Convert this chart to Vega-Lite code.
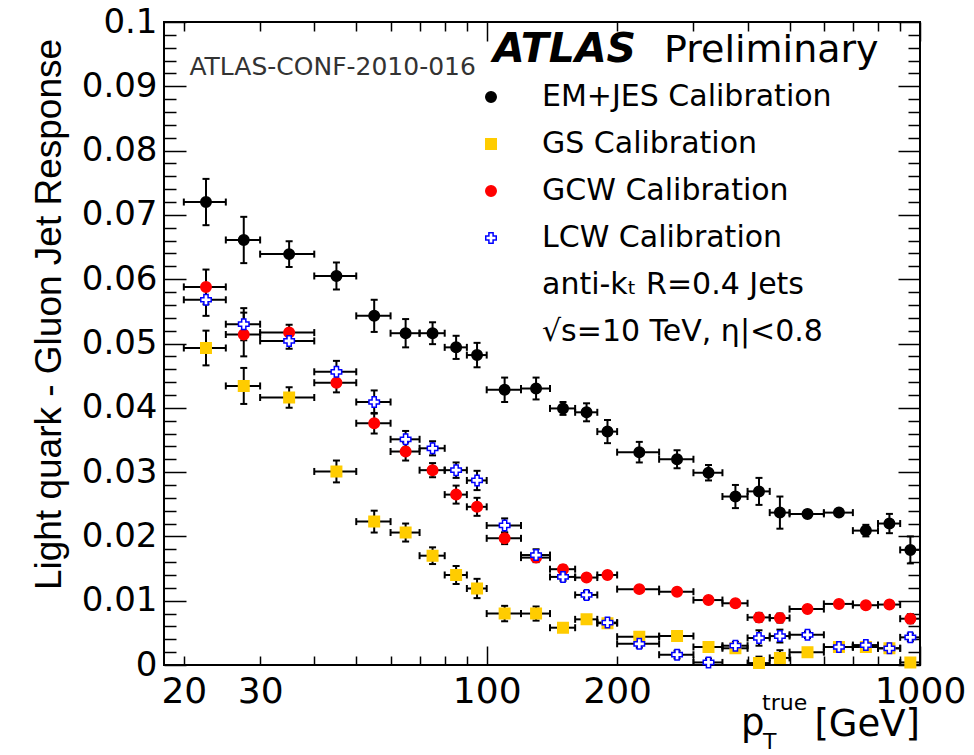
{
  "$schema": "https://vega.github.io/schema/vega-lite/v6.json",
  "autosize": "none",
  "width": 756,
  "height": 643,
  "padding": {"left": 164, "top": 22, "right": 54, "bottom": 90},
  "background": "white",
  "config": {
    "view": {"stroke": "black", "strokeWidth": 2},
    "font": "DejaVu Sans",
    "axis": {"grid": false, "domain": false, "tickColor": "black", "labelColor": "black", "titleColor": "black"}
  },
  "data": {"values": [
      {"cal": "EM+JES Calibration", "lo": 20, "hi": 25, "pt": 22.5, "resp": 0.0720, "ylo": 0.0684, "yhi": 0.0756},
      {"cal": "EM+JES Calibration", "lo": 25, "hi": 30, "pt": 27.5, "resp": 0.0661, "ylo": 0.0625, "yhi": 0.0697},
      {"cal": "EM+JES Calibration", "lo": 30, "hi": 40, "pt": 35, "resp": 0.0639, "ylo": 0.0619, "yhi": 0.0659},
      {"cal": "EM+JES Calibration", "lo": 40, "hi": 50, "pt": 45, "resp": 0.0605, "ylo": 0.0584, "yhi": 0.0626},
      {"cal": "EM+JES Calibration", "lo": 50, "hi": 60, "pt": 55, "resp": 0.0543, "ylo": 0.0518, "yhi": 0.0568},
      {"cal": "EM+JES Calibration", "lo": 60, "hi": 70, "pt": 65, "resp": 0.0516, "ylo": 0.0494, "yhi": 0.0538},
      {"cal": "EM+JES Calibration", "lo": 70, "hi": 80, "pt": 75, "resp": 0.0516, "ylo": 0.0499, "yhi": 0.0533},
      {"cal": "EM+JES Calibration", "lo": 80, "hi": 90, "pt": 85, "resp": 0.0494, "ylo": 0.0476, "yhi": 0.0512},
      {"cal": "EM+JES Calibration", "lo": 90, "hi": 100, "pt": 95, "resp": 0.0482, "ylo": 0.0463, "yhi": 0.0501},
      {"cal": "EM+JES Calibration", "lo": 100, "hi": 120, "pt": 110, "resp": 0.0428, "ylo": 0.0409, "yhi": 0.0447},
      {"cal": "EM+JES Calibration", "lo": 120, "hi": 140, "pt": 130, "resp": 0.0430, "ylo": 0.0413, "yhi": 0.0447},
      {"cal": "EM+JES Calibration", "lo": 140, "hi": 160, "pt": 150, "resp": 0.0399, "ylo": 0.0389, "yhi": 0.0409},
      {"cal": "EM+JES Calibration", "lo": 160, "hi": 180, "pt": 170, "resp": 0.0393, "ylo": 0.0379, "yhi": 0.0407},
      {"cal": "EM+JES Calibration", "lo": 180, "hi": 200, "pt": 190, "resp": 0.0363, "ylo": 0.0345, "yhi": 0.0381},
      {"cal": "EM+JES Calibration", "lo": 200, "hi": 250, "pt": 225, "resp": 0.0331, "ylo": 0.0315, "yhi": 0.0347},
      {"cal": "EM+JES Calibration", "lo": 250, "hi": 300, "pt": 275, "resp": 0.0320, "ylo": 0.0306, "yhi": 0.0334},
      {"cal": "EM+JES Calibration", "lo": 300, "hi": 350, "pt": 325, "resp": 0.0299, "ylo": 0.0287, "yhi": 0.0311},
      {"cal": "EM+JES Calibration", "lo": 350, "hi": 400, "pt": 375, "resp": 0.0262, "ylo": 0.0244, "yhi": 0.0280},
      {"cal": "EM+JES Calibration", "lo": 400, "hi": 450, "pt": 425, "resp": 0.0270, "ylo": 0.0249, "yhi": 0.0291},
      {"cal": "EM+JES Calibration", "lo": 450, "hi": 500, "pt": 475, "resp": 0.0237, "ylo": 0.0212, "yhi": 0.0262},
      {"cal": "EM+JES Calibration", "lo": 500, "hi": 600, "pt": 550, "resp": 0.0235, "ylo": 0.0231, "yhi": 0.0239},
      {"cal": "EM+JES Calibration", "lo": 600, "hi": 700, "pt": 650, "resp": 0.0237, "ylo": 0.0233, "yhi": 0.0241},
      {"cal": "EM+JES Calibration", "lo": 700, "hi": 800, "pt": 750, "resp": 0.0209, "ylo": 0.0200, "yhi": 0.0218},
      {"cal": "EM+JES Calibration", "lo": 800, "hi": 900, "pt": 850, "resp": 0.0220, "ylo": 0.0205, "yhi": 0.0235},
      {"cal": "EM+JES Calibration", "lo": 900, "hi": 1000, "pt": 950, "resp": 0.0179, "ylo": 0.0158, "yhi": 0.0200},

      {"cal": "GS Calibration", "lo": 20, "hi": 25, "pt": 22.5, "resp": 0.0493, "ylo": 0.0466, "yhi": 0.0520},
      {"cal": "GS Calibration", "lo": 25, "hi": 30, "pt": 27.5, "resp": 0.0434, "ylo": 0.0406, "yhi": 0.0462},
      {"cal": "GS Calibration", "lo": 30, "hi": 40, "pt": 35, "resp": 0.0416, "ylo": 0.0400, "yhi": 0.0432},
      {"cal": "GS Calibration", "lo": 40, "hi": 50, "pt": 45, "resp": 0.0301, "ylo": 0.0284, "yhi": 0.0318},
      {"cal": "GS Calibration", "lo": 50, "hi": 60, "pt": 55, "resp": 0.0223, "ylo": 0.0206, "yhi": 0.0240},
      {"cal": "GS Calibration", "lo": 60, "hi": 70, "pt": 65, "resp": 0.0206, "ylo": 0.0192, "yhi": 0.0220},
      {"cal": "GS Calibration", "lo": 70, "hi": 80, "pt": 75, "resp": 0.0170, "ylo": 0.0157, "yhi": 0.0183},
      {"cal": "GS Calibration", "lo": 80, "hi": 90, "pt": 85, "resp": 0.0140, "ylo": 0.0126, "yhi": 0.0154},
      {"cal": "GS Calibration", "lo": 90, "hi": 100, "pt": 95, "resp": 0.0119, "ylo": 0.0104, "yhi": 0.0134},
      {"cal": "GS Calibration", "lo": 100, "hi": 120, "pt": 110, "resp": 0.0080, "ylo": 0.0068, "yhi": 0.0092},
      {"cal": "GS Calibration", "lo": 120, "hi": 140, "pt": 130, "resp": 0.0080, "ylo": 0.0069, "yhi": 0.0091},
      {"cal": "GS Calibration", "lo": 140, "hi": 160, "pt": 150, "resp": 0.0058, "ylo": 0.0052, "yhi": 0.0064},
      {"cal": "GS Calibration", "lo": 160, "hi": 180, "pt": 170, "resp": 0.0071, "ylo": 0.0065, "yhi": 0.0077},
      {"cal": "GS Calibration", "lo": 180, "hi": 200, "pt": 190, "resp": 0.0065, "ylo": 0.0059, "yhi": 0.0071},
      {"cal": "GS Calibration", "lo": 200, "hi": 250, "pt": 225, "resp": 0.0044, "ylo": 0.0039, "yhi": 0.0049},
      {"cal": "GS Calibration", "lo": 250, "hi": 300, "pt": 275, "resp": 0.0045, "ylo": 0.0040, "yhi": 0.0050},
      {"cal": "GS Calibration", "lo": 300, "hi": 350, "pt": 325, "resp": 0.0028, "ylo": 0.0023, "yhi": 0.0033},
      {"cal": "GS Calibration", "lo": 350, "hi": 400, "pt": 375, "resp": 0.0026, "ylo": 0.0020, "yhi": 0.0032},
      {"cal": "GS Calibration", "lo": 400, "hi": 450, "pt": 425, "resp": 0.0003, "ylo": -0.0007, "yhi": 0.0013},
      {"cal": "GS Calibration", "lo": 450, "hi": 500, "pt": 475, "resp": 0.0011, "ylo": -0.0001, "yhi": 0.0023},
      {"cal": "GS Calibration", "lo": 500, "hi": 600, "pt": 550, "resp": 0.0020, "ylo": 0.0015, "yhi": 0.0025},
      {"cal": "GS Calibration", "lo": 600, "hi": 700, "pt": 650, "resp": 0.0028, "ylo": 0.0023, "yhi": 0.0033},
      {"cal": "GS Calibration", "lo": 700, "hi": 800, "pt": 750, "resp": 0.0028, "ylo": 0.0023, "yhi": 0.0033},
      {"cal": "GS Calibration", "lo": 800, "hi": 900, "pt": 850, "resp": 0.0026, "ylo": 0.0021, "yhi": 0.0031},
      {"cal": "GS Calibration", "lo": 900, "hi": 1000, "pt": 950, "resp": 0.0004, "ylo": -0.0001, "yhi": 0.0009},

      {"cal": "GCW Calibration", "lo": 20, "hi": 25, "pt": 22.5, "resp": 0.0588, "ylo": 0.0561, "yhi": 0.0615},
      {"cal": "GCW Calibration", "lo": 25, "hi": 30, "pt": 27.5, "resp": 0.0514, "ylo": 0.0480, "yhi": 0.0548},
      {"cal": "GCW Calibration", "lo": 30, "hi": 40, "pt": 35, "resp": 0.0517, "ylo": 0.0505, "yhi": 0.0529},
      {"cal": "GCW Calibration", "lo": 40, "hi": 50, "pt": 45, "resp": 0.0439, "ylo": 0.0424, "yhi": 0.0454},
      {"cal": "GCW Calibration", "lo": 50, "hi": 60, "pt": 55, "resp": 0.0376, "ylo": 0.0360, "yhi": 0.0392},
      {"cal": "GCW Calibration", "lo": 60, "hi": 70, "pt": 65, "resp": 0.0332, "ylo": 0.0318, "yhi": 0.0346},
      {"cal": "GCW Calibration", "lo": 70, "hi": 80, "pt": 75, "resp": 0.0303, "ylo": 0.0292, "yhi": 0.0314},
      {"cal": "GCW Calibration", "lo": 80, "hi": 90, "pt": 85, "resp": 0.0265, "ylo": 0.0251, "yhi": 0.0279},
      {"cal": "GCW Calibration", "lo": 90, "hi": 100, "pt": 95, "resp": 0.0246, "ylo": 0.0232, "yhi": 0.0260},
      {"cal": "GCW Calibration", "lo": 100, "hi": 120, "pt": 110, "resp": 0.0197, "ylo": 0.0188, "yhi": 0.0206},
      {"cal": "GCW Calibration", "lo": 120, "hi": 140, "pt": 130, "resp": 0.0167, "ylo": 0.0160, "yhi": 0.0174},
      {"cal": "GCW Calibration", "lo": 140, "hi": 160, "pt": 150, "resp": 0.0149, "ylo": 0.0143, "yhi": 0.0155},
      {"cal": "GCW Calibration", "lo": 160, "hi": 180, "pt": 170, "resp": 0.0136, "ylo": 0.0131, "yhi": 0.0141},
      {"cal": "GCW Calibration", "lo": 180, "hi": 200, "pt": 190, "resp": 0.0140, "ylo": 0.0134, "yhi": 0.0146},
      {"cal": "GCW Calibration", "lo": 200, "hi": 250, "pt": 225, "resp": 0.0118, "ylo": 0.0113, "yhi": 0.0123},
      {"cal": "GCW Calibration", "lo": 250, "hi": 300, "pt": 275, "resp": 0.0114, "ylo": 0.0109, "yhi": 0.0119},
      {"cal": "GCW Calibration", "lo": 300, "hi": 350, "pt": 325, "resp": 0.0101, "ylo": 0.0096, "yhi": 0.0106},
      {"cal": "GCW Calibration", "lo": 350, "hi": 400, "pt": 375, "resp": 0.0096, "ylo": 0.0091, "yhi": 0.0101},
      {"cal": "GCW Calibration", "lo": 400, "hi": 450, "pt": 425, "resp": 0.0074, "ylo": 0.0067, "yhi": 0.0081},
      {"cal": "GCW Calibration", "lo": 450, "hi": 500, "pt": 475, "resp": 0.0073, "ylo": 0.0066, "yhi": 0.0080},
      {"cal": "GCW Calibration", "lo": 500, "hi": 600, "pt": 550, "resp": 0.0087, "ylo": 0.0082, "yhi": 0.0092},
      {"cal": "GCW Calibration", "lo": 600, "hi": 700, "pt": 650, "resp": 0.0095, "ylo": 0.0090, "yhi": 0.0100},
      {"cal": "GCW Calibration", "lo": 700, "hi": 800, "pt": 750, "resp": 0.0093, "ylo": 0.0088, "yhi": 0.0098},
      {"cal": "GCW Calibration", "lo": 800, "hi": 900, "pt": 850, "resp": 0.0094, "ylo": 0.0089, "yhi": 0.0099},
      {"cal": "GCW Calibration", "lo": 900, "hi": 1000, "pt": 950, "resp": 0.0072, "ylo": 0.0065, "yhi": 0.0079},

      {"cal": "LCW Calibration", "lo": 20, "hi": 25, "pt": 22.5, "resp": 0.0568, "ylo": 0.0543, "yhi": 0.0593},
      {"cal": "LCW Calibration", "lo": 25, "hi": 30, "pt": 27.5, "resp": 0.0530, "ylo": 0.0505, "yhi": 0.0555},
      {"cal": "LCW Calibration", "lo": 30, "hi": 40, "pt": 35, "resp": 0.0504, "ylo": 0.0492, "yhi": 0.0516},
      {"cal": "LCW Calibration", "lo": 40, "hi": 50, "pt": 45, "resp": 0.0456, "ylo": 0.0439, "yhi": 0.0473},
      {"cal": "LCW Calibration", "lo": 50, "hi": 60, "pt": 55, "resp": 0.0409, "ylo": 0.0391, "yhi": 0.0427},
      {"cal": "LCW Calibration", "lo": 60, "hi": 70, "pt": 65, "resp": 0.0351, "ylo": 0.0338, "yhi": 0.0364},
      {"cal": "LCW Calibration", "lo": 70, "hi": 80, "pt": 75, "resp": 0.0337, "ylo": 0.0326, "yhi": 0.0348},
      {"cal": "LCW Calibration", "lo": 80, "hi": 90, "pt": 85, "resp": 0.0303, "ylo": 0.0291, "yhi": 0.0315},
      {"cal": "LCW Calibration", "lo": 90, "hi": 100, "pt": 95, "resp": 0.0287, "ylo": 0.0272, "yhi": 0.0302},
      {"cal": "LCW Calibration", "lo": 100, "hi": 120, "pt": 110, "resp": 0.0217, "ylo": 0.0206, "yhi": 0.0228},
      {"cal": "LCW Calibration", "lo": 120, "hi": 140, "pt": 130, "resp": 0.0171, "ylo": 0.0162, "yhi": 0.0180},
      {"cal": "LCW Calibration", "lo": 140, "hi": 160, "pt": 150, "resp": 0.0137, "ylo": 0.0131, "yhi": 0.0143},
      {"cal": "LCW Calibration", "lo": 160, "hi": 180, "pt": 170, "resp": 0.0109, "ylo": 0.0103, "yhi": 0.0115},
      {"cal": "LCW Calibration", "lo": 180, "hi": 200, "pt": 190, "resp": 0.0066, "ylo": 0.0060, "yhi": 0.0072},
      {"cal": "LCW Calibration", "lo": 200, "hi": 250, "pt": 225, "resp": 0.0033, "ylo": 0.0027, "yhi": 0.0039},
      {"cal": "LCW Calibration", "lo": 250, "hi": 300, "pt": 275, "resp": 0.0016, "ylo": 0.0010, "yhi": 0.0022},
      {"cal": "LCW Calibration", "lo": 300, "hi": 350, "pt": 325, "resp": 0.0004, "ylo": -0.0002, "yhi": 0.0010},
      {"cal": "LCW Calibration", "lo": 350, "hi": 400, "pt": 375, "resp": 0.0030, "ylo": 0.0024, "yhi": 0.0036},
      {"cal": "LCW Calibration", "lo": 400, "hi": 450, "pt": 425, "resp": 0.0042, "ylo": 0.0030, "yhi": 0.0054},
      {"cal": "LCW Calibration", "lo": 450, "hi": 500, "pt": 475, "resp": 0.0045, "ylo": 0.0035, "yhi": 0.0055},
      {"cal": "LCW Calibration", "lo": 500, "hi": 600, "pt": 550, "resp": 0.0047, "ylo": 0.0042, "yhi": 0.0052},
      {"cal": "LCW Calibration", "lo": 600, "hi": 700, "pt": 650, "resp": 0.0028, "ylo": 0.0023, "yhi": 0.0033},
      {"cal": "LCW Calibration", "lo": 700, "hi": 800, "pt": 750, "resp": 0.0031, "ylo": 0.0026, "yhi": 0.0036},
      {"cal": "LCW Calibration", "lo": 800, "hi": 900, "pt": 850, "resp": 0.0026, "ylo": 0.0021, "yhi": 0.0031},
      {"cal": "LCW Calibration", "lo": 900, "hi": 1000, "pt": 950, "resp": 0.0043, "ylo": 0.0037, "yhi": 0.0049}
  ]},
  "layer": [
    {
      "mark": {"type": "point", "opacity": 0},
      "encoding": {
        "x": {"field": "pt", "type": "quantitative", "scale": {"type": "log", "domain": [18, 1000], "nice": false},
          "axis": {"orient": "bottom", "values": [100, 1000], "labels": false, "domain": false, "title": null, "ticks": true, "tickColor": "black", "tickWidth": 1.5, "tickSize": 19, "offset": -19}},
        "y": {"field": "resp", "type": "quantitative", "scale": {"domain": [0, 0.1], "nice": false, "zero": false},
          "axis": {"orient": "left", "values": [0, 0.01, 0.02, 0.03, 0.04, 0.05, 0.06, 0.07, 0.08, 0.09, 0.1], "labels": false, "domain": false, "title": null, "ticks": true, "tickColor": "black", "tickWidth": 1.5, "tickSize": 22, "offset": -22}}
      }
    },
    {
      "mark": {"type": "point", "opacity": 0},
      "encoding": {
        "x": {"field": "pt", "type": "quantitative",
          "axis": {"orient": "bottom", "values": [20, 30, 40, 50, 60, 70, 80, 90, 200, 300, 400, 500, 600, 700, 800, 900], "labels": false, "domain": false, "title": null, "ticks": true, "tickColor": "black", "tickWidth": 1.5, "tickSize": 9, "offset": -9}},
        "y": {"field": "resp", "type": "quantitative",
          "axis": {"orient": "left", "values": [0.002, 0.004, 0.006, 0.008, 0.012, 0.014, 0.016, 0.018, 0.022, 0.024, 0.026, 0.028, 0.032, 0.034, 0.036, 0.038, 0.042, 0.044, 0.046, 0.048, 0.052, 0.054, 0.056, 0.058, 0.062, 0.064, 0.066, 0.068, 0.072, 0.074, 0.076, 0.078, 0.082, 0.084, 0.086, 0.088, 0.092, 0.094, 0.096, 0.098], "labels": false, "domain": false, "title": null, "ticks": true, "tickColor": "black", "tickWidth": 1.5, "tickSize": 12, "offset": -12}}
      }
    },
    {
      "mark": {"type": "point", "opacity": 0},
      "encoding": {
        "x": {"field": "pt", "type": "quantitative",
          "axis": {"orient": "top", "values": [100, 1000], "labels": false, "domain": false, "title": null, "ticks": true, "tickColor": "black", "tickWidth": 1.5, "tickSize": 19, "offset": -19}},
        "y": {"field": "resp", "type": "quantitative",
          "axis": {"orient": "right", "values": [0, 0.01, 0.02, 0.03, 0.04, 0.05, 0.06, 0.07, 0.08, 0.09, 0.1], "labels": false, "domain": false, "title": null, "ticks": true, "tickColor": "black", "tickWidth": 1.5, "tickSize": 22, "offset": -22}}
      }
    },
    {
      "mark": {"type": "point", "opacity": 0},
      "encoding": {
        "x": {"field": "pt", "type": "quantitative",
          "axis": {"orient": "top", "values": [20, 30, 40, 50, 60, 70, 80, 90, 200, 300, 400, 500, 600, 700, 800, 900], "labels": false, "domain": false, "title": null, "ticks": true, "tickColor": "black", "tickWidth": 1.5, "tickSize": 9, "offset": -9}},
        "y": {"field": "resp", "type": "quantitative",
          "axis": {"orient": "right", "values": [0.002, 0.004, 0.006, 0.008, 0.012, 0.014, 0.016, 0.018, 0.022, 0.024, 0.026, 0.028, 0.032, 0.034, 0.036, 0.038, 0.042, 0.044, 0.046, 0.048, 0.052, 0.054, 0.056, 0.058, 0.062, 0.064, 0.066, 0.068, 0.072, 0.074, 0.076, 0.078, 0.082, 0.084, 0.086, 0.088, 0.092, 0.094, 0.096, 0.098], "labels": false, "domain": false, "title": null, "ticks": true, "tickColor": "black", "tickWidth": 1.5, "tickSize": 12, "offset": -12}}
      }
    },
    {
      "mark": {"type": "rule", "color": "black", "strokeWidth": 2, "clip": true},
      "encoding": {
        "x": {"field": "lo", "type": "quantitative", "axis": {"labels": false, "ticks": false, "domain": false, "grid": false, "title": null}},
        "x2": {"field": "hi"},
        "y": {"field": "resp", "type": "quantitative", "axis": {"labels": false, "ticks": false, "domain": false, "grid": false, "title": null}}
      }
    },
    {
      "mark": {"type": "tick", "orient": "vertical", "color": "black", "size": 7, "thickness": 2, "opacity": 1, "clip": true},
      "encoding": {
        "x": {"field": "lo", "type": "quantitative", "axis": {"labels": false, "ticks": false, "domain": false, "grid": false, "title": null}},
        "y": {"field": "resp", "type": "quantitative", "axis": {"labels": false, "ticks": false, "domain": false, "grid": false, "title": null}}
      }
    },
    {
      "mark": {"type": "tick", "orient": "vertical", "color": "black", "size": 7, "thickness": 2, "opacity": 1, "clip": true},
      "encoding": {
        "x": {"field": "hi", "type": "quantitative", "axis": {"labels": false, "ticks": false, "domain": false, "grid": false, "title": null}},
        "y": {"field": "resp", "type": "quantitative", "axis": {"labels": false, "ticks": false, "domain": false, "grid": false, "title": null}}
      }
    },
    {
      "mark": {"type": "rule", "color": "black", "strokeWidth": 2, "clip": true},
      "encoding": {
        "x": {"field": "pt", "type": "quantitative", "axis": {"labels": false, "ticks": false, "domain": false, "grid": false, "title": null}},
        "y": {"field": "ylo", "type": "quantitative", "axis": {"labels": false, "ticks": false, "domain": false, "grid": false, "title": null}},
        "y2": {"field": "yhi"}
      }
    },
    {
      "mark": {"type": "tick", "orient": "horizontal", "color": "black", "size": 7, "thickness": 2, "opacity": 1, "clip": true},
      "encoding": {
        "x": {"field": "pt", "type": "quantitative", "axis": {"labels": false, "ticks": false, "domain": false, "grid": false, "title": null}},
        "y": {"field": "ylo", "type": "quantitative", "axis": {"labels": false, "ticks": false, "domain": false, "grid": false, "title": null}}
      }
    },
    {
      "mark": {"type": "tick", "orient": "horizontal", "color": "black", "size": 7, "thickness": 2, "opacity": 1, "clip": true},
      "encoding": {
        "x": {"field": "pt", "type": "quantitative", "axis": {"labels": false, "ticks": false, "domain": false, "grid": false, "title": null}},
        "y": {"field": "yhi", "type": "quantitative", "axis": {"labels": false, "ticks": false, "domain": false, "grid": false, "title": null}}
      }
    },
    {
      "mark": {"type": "point", "filled": true, "size": 110, "strokeWidth": 1.5, "opacity": 1},
      "encoding": {
        "x": {"field": "pt", "type": "quantitative",
          "axis": {"orient": "bottom", "values": [20, 30, 100, 200, 1000], "format": "d", "ticks": false, "domain": false, "labelFontSize": 36, "labelPadding": 9, "labelFlush": false, "labelOverlap": false, "title": null}},
        "y": {"field": "resp", "type": "quantitative",
          "axis": {"orient": "left", "values": [0, 0.01, 0.02, 0.03, 0.04, 0.05, 0.06, 0.07, 0.08, 0.09, 0.1], "labelExpr": "datum.value == 0 ? '0' : format(datum.value, '.2~f')", "ticks": false, "domain": false, "labelFontSize": 34, "labelPadding": 7, "labelFlush": false,
            "title": "Light quark - Gluon Jet Response", "titleFont": "Liberation Sans", "titleFontSize": 37, "titleFontWeight": "normal", "titleAngle": -90, "titleAlign": "center", "titleBaseline": "alphabetic", "titleX": -104, "titleY": 292}},
        "shape": {"field": "cal", "type": "nominal",
          "scale": {"domain": ["EM+JES Calibration", "GS Calibration", "GCW Calibration", "LCW Calibration", "anti-kₜ R=0.4 Jets", "√s=10 TeV, η|<0.8"], "range": ["circle", "square", "circle", "cross", "circle", "circle"]},
          "legend": {"orient": "none", "legendX": 312, "legendY": 60, "title": null, "padding": 0, "labelFont": "DejaVu Sans", "labelFontSize": 30, "labelColor": "black", "labelOffset": 36, "rowPadding": 17, "symbolSize": 110, "symbolStrokeWidth": 1.5, "labelLimit": 600}},
        "fill": {"field": "cal", "type": "nominal",
          "scale": {"domain": ["EM+JES Calibration", "GS Calibration", "GCW Calibration", "LCW Calibration", "anti-kₜ R=0.4 Jets", "√s=10 TeV, η|<0.8"], "range": ["black", "#FFCC00", "#FF0000", "white", "transparent", "transparent"]},
          "legend": {"orient": "none", "legendX": 312, "legendY": 60, "title": null, "padding": 0, "labelFont": "DejaVu Sans", "labelFontSize": 30, "labelColor": "black", "labelOffset": 36, "rowPadding": 17, "symbolSize": 110, "symbolStrokeWidth": 1.5, "labelLimit": 600}},
        "stroke": {"field": "cal", "type": "nominal",
          "scale": {"domain": ["EM+JES Calibration", "GS Calibration", "GCW Calibration", "LCW Calibration", "anti-kₜ R=0.4 Jets", "√s=10 TeV, η|<0.8"], "range": ["black", "#FFCC00", "#FF0000", "#0000FF", "transparent", "transparent"]},
          "legend": {"orient": "none", "legendX": 312, "legendY": 60, "title": null, "padding": 0, "labelFont": "DejaVu Sans", "labelFontSize": 30, "labelColor": "black", "labelOffset": 36, "rowPadding": 17, "symbolSize": 110, "symbolStrokeWidth": 1.5, "labelLimit": 600}}
      }
    },
    {
      "transform": [{"filter": "datum.cal == 'EM+JES Calibration' && datum.lo == 20"}],
      "mark": {"type": "text", "text": "ATLAS", "font": "DejaVu Sans", "fontStyle": "italic", "fontWeight": "bold", "fontSize": 41, "align": "left", "baseline": "alphabetic", "color": "black"},
      "encoding": {"x": {"datum": 103.4, "type": "quantitative", "axis": {"labels": false, "ticks": false, "domain": false, "grid": false, "title": null}}, "y": {"datum": 0.0938, "type": "quantitative", "axis": {"labels": false, "ticks": false, "domain": false, "grid": false, "title": null}}}
    },
    {
      "transform": [{"filter": "datum.cal == 'EM+JES Calibration' && datum.lo == 20"}],
      "mark": {"type": "text", "text": "Preliminary", "font": "DejaVu Sans", "fontSize": 38, "align": "left", "baseline": "alphabetic", "color": "black"},
      "encoding": {"x": {"datum": 256.6, "type": "quantitative", "axis": {"labels": false, "ticks": false, "domain": false, "grid": false, "title": null}}, "y": {"datum": 0.0938, "type": "quantitative", "axis": {"labels": false, "ticks": false, "domain": false, "grid": false, "title": null}}}
    },
    {
      "transform": [{"filter": "datum.cal == 'EM+JES Calibration' && datum.lo == 20"}],
      "mark": {"type": "text", "text": "ATLAS-CONF-2010-016", "font": "DejaVu Sans", "fontSize": 25, "align": "left", "baseline": "alphabetic", "color": "#333333"},
      "encoding": {"x": {"datum": 20.6, "type": "quantitative", "axis": {"labels": false, "ticks": false, "domain": false, "grid": false, "title": null}}, "y": {"datum": 0.0918, "type": "quantitative", "axis": {"labels": false, "ticks": false, "domain": false, "grid": false, "title": null}}}
    },
    {
      "transform": [{"filter": "datum.cal == 'EM+JES Calibration' && datum.lo == 20"}],
      "mark": {"type": "text", "text": "p", "font": "DejaVu Sans", "fontSize": 37, "align": "left", "baseline": "alphabetic", "color": "black"},
      "encoding": {"x": {"datum": 386.3, "type": "quantitative", "axis": {"labels": false, "ticks": false, "domain": false, "grid": false, "title": null}}, "y": {"datum": -0.0109, "type": "quantitative", "axis": {"labels": false, "ticks": false, "domain": false, "grid": false, "title": null}}}
    },
    {
      "transform": [{"filter": "datum.cal == 'EM+JES Calibration' && datum.lo == 20"}],
      "mark": {"type": "text", "text": "true", "font": "DejaVu Sans", "fontSize": 22, "align": "left", "baseline": "alphabetic", "color": "black"},
      "encoding": {"x": {"datum": 432, "type": "quantitative", "axis": {"labels": false, "ticks": false, "domain": false, "grid": false, "title": null}}, "y": {"datum": -0.0070, "type": "quantitative", "axis": {"labels": false, "ticks": false, "domain": false, "grid": false, "title": null}}}
    },
    {
      "transform": [{"filter": "datum.cal == 'EM+JES Calibration' && datum.lo == 20"}],
      "mark": {"type": "text", "text": "T", "font": "DejaVu Sans", "fontSize": 22, "align": "left", "baseline": "alphabetic", "color": "black"},
      "encoding": {"x": {"datum": 434, "type": "quantitative", "axis": {"labels": false, "ticks": false, "domain": false, "grid": false, "title": null}}, "y": {"datum": -0.0131, "type": "quantitative", "axis": {"labels": false, "ticks": false, "domain": false, "grid": false, "title": null}}}
    },
    {
      "transform": [{"filter": "datum.cal == 'EM+JES Calibration' && datum.lo == 20"}],
      "mark": {"type": "text", "text": "[GeV]", "font": "DejaVu Sans", "fontSize": 37, "align": "right", "baseline": "alphabetic", "color": "black"},
      "encoding": {"x": {"datum": 1000, "type": "quantitative", "axis": {"labels": false, "ticks": false, "domain": false, "grid": false, "title": null}}, "y": {"datum": -0.0110, "type": "quantitative", "axis": {"labels": false, "ticks": false, "domain": false, "grid": false, "title": null}}}
    }
  ],
  "resolve": {"axis": {"x": "independent", "y": "independent"}}
}
